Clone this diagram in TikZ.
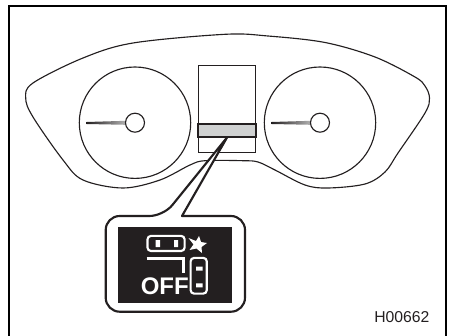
\documentclass[tikz,border=0pt]{standalone}
\usepackage{fontspec}
\setmainfont{Liberation Sans}
\definecolor{inkdark}{HTML}{231F20}
\definecolor{bandgray}{HTML}{CFD1D1}
\tikzset{
  thinline/.style={draw=inkdark,line width=0.85},
  frameline/.style={draw=black,line width=1.7},
  calloutline/.style={draw=inkdark,line width=1.6,fill=white,line join=round},
  iconline/.style={draw=white,line width=1.6},
  iconfill/.style={fill=white,draw=none},
  needle/.style={left color=inkdark,right color=black!30,draw=none},
  dial/.style={thinline,fill=white},
}
\begin{document}
\begin{tikzpicture}[x=0.75pt,y=-0.75pt]
\useasboundingbox (0,0) rectangle (449,335);
% frame (open at the bottom edge)
\draw[frameline] (8.8,336) -- (8.8,6) -- (445.7,6) -- (445.7,336);
% cluster outline
\draw[thinline] plot[smooth cycle,tension=0.55] coordinates {
 (225,34.3) (268,36) (325,42.5) (375,57) (415,77) (425,86) (429.5,98) (425,113) (398,153)
 (385,172) (365,184) (328,188) (305,185) (275,170) (258,162) (243,160.7)
 (205,160.7) (190,165) (160,180) (123,188) (83,180) (63,160) (33,117) (25.7,98) (33,83) (83,58) (133,43)};
% dials
\foreach \cx/\nm in {135/l,320/r}{
  \draw[dial] (\cx,122.7) circle[radius=55.7];
  \shade[needle] (\cx-48.5,122) -- (\cx-9,120.8) -- (\cx-9,124.8) -- (\cx-48.5,124) -- cycle;
  \draw[dial] (\cx,122.7) circle[radius=9.5];
}
% centre panel
\draw[thinline,fill=white] (198.2,65.7) rectangle (255.7,152.7);
\draw[draw=inkdark,line width=1.5,fill=bandgray] (198.2,124) rectangle (255.7,136.5);
% callout
\coordinate (apex) at (227,137.5);
\draw[calloutline,rounded corners=10.5pt] (205,216) -- (245,216) -- (245,311.7) -- (105.7,311.7) -- (105.7,216) -- (163.5,216)
   [sharp corners] -- (apex) -- (182,216) -- cycle;
\draw[draw=white,line width=2.2] (165.5,216) -- (180,216);
\fill[inkdark] (118,227) rectangle (232,302.7);
% icon
\draw[iconline,rounded corners=2.6pt] (147.5,235.9) rectangle (184.6,251);
\fill[iconfill] (155.7,240) rectangle (160,247) (174,240) rectangle (178,247);
\fill[iconfill] (188.5,238) -- (196,241) -- (199,236) -- (201,242) -- (207,243) -- (201.5,247) -- (202,253) -- (196.5,248.5) -- (189.5,250) -- (193.5,244.5) -- cycle;
\draw[iconline,line width=1.8] (146.7,258.3) -- (183.3,258.3) -- (183.3,272.7);
\node (off) [anchor=base west,inner sep=0pt,text=white,font=\fontsize{18}{18}\selectfont\bfseries] at (140.5,294.2) {OFF};
\draw[iconline,rounded corners=2.6pt] (190.6,257.9) rectangle (206.8,293.6);
\fill[iconfill] (196,266.7) rectangle (202.7,270.7) (196,283.3) rectangle (202.7,287.3);
% code
\node (code) [anchor=base west,inner sep=0pt,text=inkdark,font=\fontsize{11.8}{12}\selectfont] at (374,322) {H00662};
\end{tikzpicture}
\end{document}
